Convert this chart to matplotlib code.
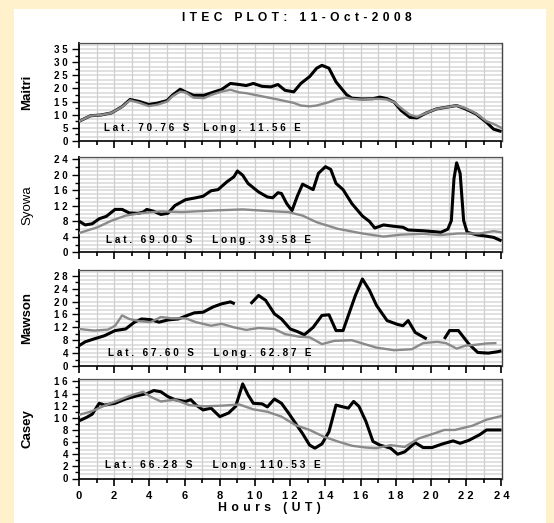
import matplotlib
matplotlib.use("Agg")
import matplotlib.pyplot as plt
from matplotlib.ticker import MultipleLocator, FuncFormatter
from matplotlib.patches import Rectangle
import numpy as np

plt.rcParams['font.family'] = ['Liberation Sans', 'DejaVu Sans']

# ---------------- data ----------------
stations = ["Maitri", "Syowa", "Mawson", "Casey"]
coords = ["Lat. 70.76 S  Long. 11.56 E",
          "Lat. 69.00 S   Long. 39.58 E",
          "Lat. 67.60 S   Long. 62.87 E",
          "Lat. 66.28 S   Long. 110.53 E"]

maitri_obs_h = [0, 0.65, 1.25, 1.85, 2.45, 2.9, 3.45, 3.95, 4.45, 5.0, 5.3, 5.75, 6.05, 6.5, 7.1, 7.5, 8.1,
                8.6, 9.1, 9.5, 9.9, 10.4, 10.9, 11.3, 11.7, 12.2, 12.6, 13.1, 13.5, 13.8, 14.2, 14.6, 15.2,
                15.5, 16.1, 16.7, 17.1, 17.5, 17.9, 18.3, 18.8, 19.2, 19.7, 20.3, 20.9, 21.45, 21.95, 22.55,
                23.15, 23.55, 24]
maitri_obs = [7.5, 9.6, 9.9, 10.7, 13.1, 15.8, 15.0, 13.9, 14.4, 15.4, 17.4, 19.7, 18.7, 17.4, 17.4, 18.3, 19.6,
              21.9, 21.5, 21.1, 21.9, 20.8, 20.6, 21.5, 19.3, 18.7, 21.9, 24.5, 27.7, 28.8, 27.7, 22.5, 17.6,
              16.3, 16.0, 16.1, 16.7, 16.1, 14.8, 11.6, 9.0, 8.8, 10.6, 12.2, 12.9, 13.5, 12.2, 10.3,
              7.1, 4.5, 3.6]
maitri_mod_h = [0, 0.65, 1.25, 1.85, 2.45, 2.9, 3.45, 3.95, 4.45, 5.0, 5.3, 5.75, 6.05, 6.5, 7.1, 7.5, 8.1,
                8.6, 9.1, 9.5, 10.4, 11.3, 12.2, 12.6, 13.1, 13.5, 14.2, 14.6, 15.2, 15.5, 16.1, 16.7, 17.1,
                17.5, 17.9, 18.3, 18.8, 19.2, 19.7, 20.3, 20.9, 21.45, 21.95, 22.55, 23.15, 23.55, 24]
maitri_mod = [7.5, 9.6, 9.9, 10.7, 13.0, 15.5, 14.5, 13.3, 13.8, 15.0, 17.0, 18.8, 18.5, 16.5, 16.3, 17.5, 18.8,
              19.5, 18.5, 18.2, 17.0, 15.8, 14.5, 13.5, 13.2, 13.5, 14.8, 15.8, 16.5, 16.0, 15.8, 16.0, 16.0,
              15.8, 14.8, 12.5, 10.0, 9.2, 10.6, 12.2, 12.9, 13.5, 12.5, 10.5, 7.5, 6.5, 5.0]

syowa_obs_h = [0, 0.35, 0.75, 1.15, 1.55, 2.05, 2.45, 2.85, 3.35, 3.65, 3.85, 4.25, 4.65, 5.05, 5.45, 6.05,
               6.65, 7.05, 7.5, 7.9, 8.4, 8.8, 9.0, 9.3, 9.6, 10.2, 10.7, 11.0, 11.3, 11.5, 11.8, 12.1, 12.4,
               12.7, 13.0, 13.3, 13.6, 14.0, 14.3, 14.6, 15.0, 15.5, 16.1, 16.5, 16.8, 17.3, 17.8, 18.4, 18.7,
               19.55, 20.35, 20.55, 20.95, 21.15, 21.3, 21.45, 21.65, 21.85, 22.05, 22.65, 23.15, 23.55, 24]
syowa_obs = [8.1, 7.1, 7.4, 8.7, 9.3, 11.1, 11.1, 10.2, 10.1, 10.4, 11.1, 10.6, 9.8, 10.1, 12.1, 13.6,
             14.1, 14.5, 15.9, 16.2, 18.2, 19.5, 21.0, 19.9, 17.8, 15.6, 14.3, 14.1, 15.4, 15.2, 12.6, 10.8, 14.5,
             17.6, 16.9, 16.2, 20.4, 22.1, 21.4, 17.8, 16.2, 12.6, 9.4, 8.0, 6.3, 7.1, 6.8, 6.5, 5.8,
             5.6, 5.3, 5.2, 6.0, 8.2, 19.0, 23.1, 20.4, 8.2, 5.2, 4.5, 4.2, 3.9, 3.0]
syowa_mod_h = [0, 1.05, 1.85, 2.65, 3.45, 4.65, 5.85, 7.5, 9.3, 10.7, 11.9, 12.7, 13.5, 14.7, 16.1, 17.3,
               18.3, 19.55, 20.55, 21.55, 22.75, 23.55, 24]
syowa_mod = [5.0, 6.5, 8.2, 9.5, 10.1, 10.6, 10.4, 10.8, 11.1, 10.7, 10.4, 9.5, 7.8, 6.1, 4.9, 4.1,
             4.6, 4.8, 4.5, 4.9, 4.9, 5.5, 5.2]

# Mawson observed has data gaps (None)
mawson_obs_h = [0, 0.35, 0.85, 1.45, 2.05, 2.65, 3.15, 3.55, 4.05, 4.55, 5.05, 5.65, 6.15, 6.55, 7.05, 7.6,
                8.1, 8.6, 8.85, 9.3, 9.75, 10.2, 10.6, 11.1, 11.5, 12.0, 12.4, 12.8, 13.3, 13.8, 14.2, 14.6,
                15.0, 15.3, 15.7, 16.1, 16.5, 16.9, 17.5, 18.1, 18.4, 18.7, 19.1, 19.75, 20.25, 20.75, 21.05,
                21.55, 22.15, 22.65, 23.25, 23.75, 24]
mawson_obs = [6.3, 7.5, 8.4, 9.4, 11.0, 11.5, 13.6, 14.6, 14.4, 13.6, 14.3, 14.6, 15.7, 16.5, 16.7, 18.3,
              19.3, 19.9, 19.3, None, 19.3, 21.9, 20.4, 16.2, 14.6, 11.5, 10.7, 9.7, 12.0, 15.7, 15.9, 11.0,
              11.0, 15.7, 21.9, 27.0, 23.5, 18.8, 14.1, 12.9, 12.5, 14.1, 10.4, 8.4, None, 8.4, 11.0,
              11.0, 6.8, 4.2, 4.0, 4.4, 4.7]
mawson_mod_h = [0, 0.85, 1.65, 2.05, 2.45, 2.85, 3.45, 4.05, 4.65, 5.25, 6.05, 6.65, 7.5, 8.1, 8.8, 9.5,
                10.2, 11.1, 11.7, 12.5, 13.1, 13.8, 14.5, 15.5, 16.1, 16.9, 17.9, 18.9, 19.55, 20.35, 20.85,
                21.45, 21.95, 22.55, 23.15, 23.65]
mawson_mod = [11.5, 11.0, 11.3, 12.5, 15.7, 14.6, 13.9, 13.6, 15.2, 14.8, 14.8, 13.6, 12.5, 13.1, 12.0, 11.2,
              11.8, 11.5, 9.9, 9.1, 8.9, 6.8, 7.8, 8.0, 7.0, 5.7, 4.9, 5.2, 7.1, 7.5, 7.1,
              5.4, 6.3, 6.6, 7.0, 7.1]

casey_obs_h = [0, 0.45, 0.75, 1.15, 1.45, 2.05, 2.65, 3.25, 3.85, 4.25, 4.65, 5.05, 5.45, 6.05, 6.35, 6.65,
               7.05, 7.5, 8.0, 8.5, 8.9, 9.3, 9.6, 9.9, 10.4, 10.7, 11.1, 11.5, 11.9, 12.3, 12.7, 13.1, 13.4,
               13.8, 14.2, 14.6, 15.0, 15.3, 15.6, 15.9, 16.3, 16.7, 17.1, 17.7, 18.1, 18.5, 19.1, 19.55,
               20.05, 20.65, 21.25, 21.65, 22.15, 22.75, 23.15, 24]
casey_obs = [9.5, 10.1, 10.6, 12.4, 12.1, 12.4, 13.1, 13.6, 14.0, 14.5, 14.3, 13.5, 13.0, 12.7, 13.0, 12.1,
             11.3, 11.6, 10.2, 10.8, 11.9, 15.6, 13.8, 12.4, 12.3, 11.8, 13.1, 12.4, 10.8, 9.1, 7.4, 5.5, 5.0,
             5.7, 7.7, 12.1, 11.8, 11.6, 12.7, 11.9, 9.4, 6.1, 5.5, 5.0, 4.0, 4.4, 5.9, 5.1,
             5.1, 5.7, 6.2, 5.8, 6.3, 7.2, 8.0, 8.0]
casey_mod_h = [0, 0.65, 1.45, 2.25, 3.05, 3.65, 4.05, 4.65, 5.45, 6.25, 7.05, 8.1, 9.1, 9.9, 10.7, 11.5,
               12.3, 13.1, 13.9, 14.7, 15.5, 16.3, 16.9, 17.7, 18.5, 19.3, 20.15, 20.75, 21.35, 22.35, 23.15, 24]
casey_mod = [10.5, 11.0, 12.0, 12.9, 13.8, 14.3, 13.5, 12.7, 13.0, 12.1, 11.9, 12.0, 12.2, 11.4, 11.0, 10.2,
             8.8, 8.0, 6.9, 6.1, 5.4, 5.1, 5.0, 5.5, 5.2, 6.6, 7.4, 8.0, 8.0, 8.7, 9.7, 10.3]

obs_hours = [maitri_obs_h, syowa_obs_h, mawson_obs_h, casey_obs_h]
obs_vals = [maitri_obs, syowa_obs, mawson_obs, casey_obs]
mod_hours = [maitri_mod_h, syowa_mod_h, mawson_mod_h, casey_mod_h]
mod_vals = [maitri_mod, syowa_mod, mawson_mod, casey_mod]

y_max = [37.3, 24.6, 29.8, 16.4]
y_major = [5, 4, 4, 2]
y_minor = [2.5, 2, 2, 1]
y_grid = [5 / 3, 1, 4 / 3, 2 / 3]
x_ticks = list(range(0, 25, 2))

# annotation extent in hours (start, end) -- layout
ann_x0 = [1.4, 1.55, 1.65, 1.45]
ann_x1 = [12.4, 13.1, 13.1, 13.6]

# ---------------- layout ----------------
W, H = 554, 523
fig = plt.figure(figsize=(W / 100, H / 100), dpi=100)
fig.patch.set_facecolor('#FFF1CC')
fig.patches.append(Rectangle((14 / W, 0), 532 / W, (H - 9) / H, transform=fig.transFigure,
                             facecolor='white', edgecolor='none', zorder=-10))

panel_px = [(43, 141), (157, 252.5), (270, 366), (379, 478.5)]
left_px, right_px = 79, 501.5
px_per_h = (right_px - left_px) / 24

HS = '\u200a'
TS = '\u2009'


def spaced(s, sep=HS):
    return sep.join(list(s))


def num_fmt(v, p):
    return spaced(str(int(round(v))), ' ')


renderer = fig.canvas.get_renderer()


def fit_width(txt, target_px, base_size):
    w = txt.get_window_extent(renderer).width
    if w > 0:
        txt.set_fontsize(min(max(base_size * target_px / w, 0.8 * base_size), 1.2 * base_size))


label_weights = ['bold', 'normal', 'bold', 'bold']

for i in range(4):
    top, bot = panel_px[i]
    ax = fig.add_axes([left_px / W, 1 - bot / H, (right_px - left_px) / W, (bot - top) / H])
    ax.set_facecolor('white')
    ax.set_xlim(0, 24)
    ax.set_ylim(0, y_max[i])
    # grid
    for gy in np.arange(y_grid[i], y_max[i], y_grid[i]):
        ax.axhline(gy, color='#d9d9d9', lw=1.1, zorder=1)
    for gx in range(1, 24):
        ax.axvline(gx, color='#cfcfcf', lw=0.9, zorder=1)

    ox = np.array(obs_hours[i], dtype=float)
    oy = np.array([np.nan if v is None else v for v in obs_vals[i]], dtype=float)
    ax.plot(ox, oy, color='black', lw=2.2, zorder=3, solid_capstyle='butt')
    ax.plot(mod_hours[i], mod_vals[i], color='#8a8a8a', lw=1.7, zorder=4)

    ax.set_yticks([t for t in np.arange(0, y_max[i], y_major[i])])
    ax.yaxis.set_minor_locator(MultipleLocator(y_minor[i]))
    ax.yaxis.set_major_formatter(FuncFormatter(num_fmt))
    ax.set_xticks(x_ticks)
    ax.xaxis.set_minor_locator(MultipleLocator(1))
    ax.tick_params(axis='y', which='major', direction='out', length=5, width=1, labelsize=7, pad=3)
    ax.tick_params(axis='y', which='minor', direction='out', length=3, width=1)
    ax.tick_params(axis='x', which='major', direction='out', length=5, width=1.2, labelsize=8, pad=4)
    ax.tick_params(axis='x', which='minor', direction='out', length=3, width=1.2)
    for lab in ax.get_yticklabels():
        lab.set_fontweight('bold')
    if i < 3:
        ax.tick_params(axis='x', which='both', labelbottom=False)
    else:
        ax.xaxis.set_major_formatter(FuncFormatter(num_fmt))
        for lab in ax.get_xticklabels():
            lab.set_fontweight('bold')

    ax.spines['left'].set_color('black')
    ax.spines['left'].set_linewidth(1.3)
    ax.spines['bottom'].set_color('black')
    ax.spines['bottom'].set_linewidth(1.2)
    ax.spines['top'].set_color('#555555')
    ax.spines['right'].set_color('#444444')
    ax.spines['top'].set_linewidth(0.9)
    ax.spines['right'].set_linewidth(1.0)

    t = ax.text(ann_x0[i], y_max[i] * 0.135, spaced(coords[i], HS + TS), fontsize=7.6, fontweight='bold',
                ha='left', va='center', zorder=6)
    fit_width(t, (ann_x1[i] - ann_x0[i]) * px_per_h, 7.6)

    fig.text(27 / W, 1 - ((top + bot) / 2) / H, stations[i], rotation=90, ha='center', va='center',
             fontsize=9.5, fontweight=label_weights[i])

tt = fig.text(297 / W, 1 - 18 / H, spaced("ITEC PLOT: 11-Oct-2008", ' ' + HS), ha='center', va='center',
              fontsize=8.5, fontweight='bold')
fit_width(tt, 229, 8.5)
xl = fig.text(269 / W, 1 - 508 / H, spaced("Hours (UT)", ' ' + HS), ha='center', va='center',
              fontsize=9, fontweight='bold')
fit_width(xl, 103, 9)

fig.savefig('out.png', dpi=100, facecolor=fig.get_facecolor())
